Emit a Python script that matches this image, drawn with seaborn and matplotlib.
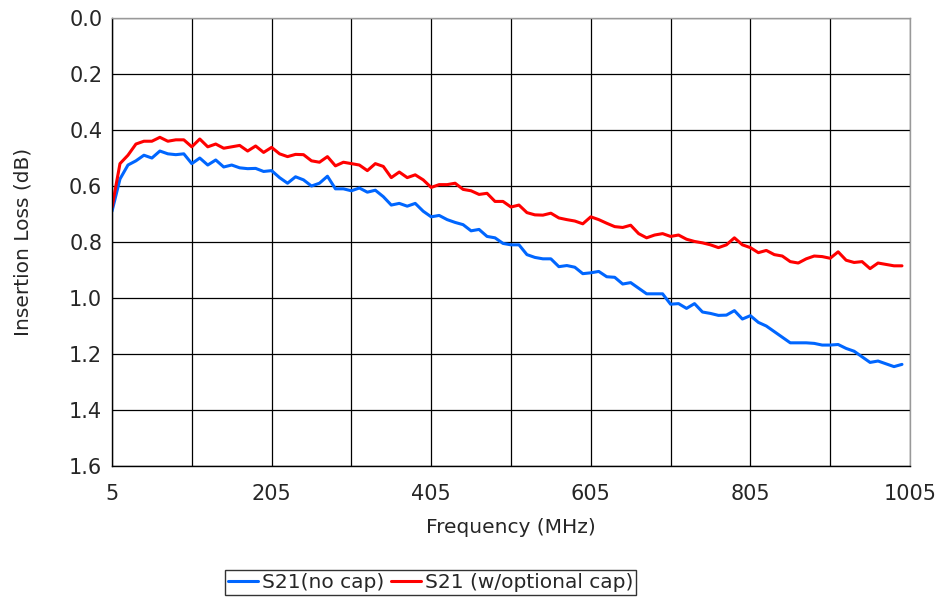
import pandas as pd
import matplotlib
matplotlib.use("Agg")
import matplotlib.pyplot as plt
from matplotlib.ticker import MultipleLocator, FixedLocator
import seaborn as sns

# Frequency points (MHz)
freq = list(range(5, 1000, 10))

# S21 insertion loss without the cap (dB)
s21_no_cap = [
    0.69, 0.575, 0.525, 0.51, 0.49, 0.50, 0.475, 0.485, 0.488, 0.485,
    0.52, 0.50, 0.525, 0.507, 0.532, 0.525, 0.535, 0.538, 0.537, 0.548,
    0.545, 0.57, 0.59, 0.567, 0.578, 0.60, 0.59, 0.565, 0.61, 0.61,
    0.617, 0.607, 0.622, 0.615, 0.638, 0.668, 0.662, 0.672, 0.662, 0.69,
    0.71, 0.705, 0.72, 0.73, 0.738, 0.76, 0.755, 0.78, 0.785, 0.805,
    0.81, 0.81, 0.845, 0.855, 0.86, 0.86, 0.888, 0.884, 0.89, 0.913,
    0.91, 0.905, 0.924, 0.926, 0.95, 0.945, 0.965, 0.985, 0.985, 0.985,
    1.022, 1.02, 1.037, 1.02, 1.05, 1.055, 1.062, 1.061, 1.045, 1.075,
    1.063, 1.087, 1.10, 1.12, 1.14, 1.16, 1.16, 1.16, 1.162, 1.168,
    1.168, 1.166, 1.18, 1.19, 1.21, 1.23, 1.225, 1.235, 1.245, 1.237,
]

# S21 insertion loss with the optional cap (dB)
s21_opt_cap = [
    0.676, 0.52, 0.49, 0.45, 0.44, 0.44, 0.426, 0.44, 0.435, 0.435,
    0.46, 0.432, 0.46, 0.45, 0.465, 0.46, 0.455, 0.475, 0.457, 0.48,
    0.462, 0.485, 0.495, 0.487, 0.488, 0.51, 0.515, 0.495, 0.528, 0.515,
    0.52, 0.525, 0.545, 0.52, 0.53, 0.57, 0.55, 0.57, 0.56, 0.578,
    0.605, 0.595, 0.595, 0.59, 0.612, 0.617, 0.63, 0.626, 0.655, 0.655,
    0.675, 0.668, 0.695, 0.703, 0.704, 0.697, 0.714, 0.72, 0.725, 0.735,
    0.71, 0.72, 0.733, 0.745, 0.748, 0.74, 0.77, 0.785, 0.775, 0.77,
    0.78, 0.775, 0.79, 0.798, 0.803, 0.81, 0.82, 0.81, 0.785, 0.81,
    0.82, 0.838, 0.83, 0.845, 0.85, 0.87, 0.875, 0.86, 0.85, 0.852,
    0.858, 0.835, 0.865, 0.873, 0.87, 0.895, 0.875, 0.88, 0.885, 0.885,
]

series_names = ["S21(no cap)", "S21 (w/optional cap)"]
series_colors = ["#0066FF", "#FF0000"]

df = pd.concat([
    pd.DataFrame({"freq": freq, "loss": s21_no_cap, "series": series_names[0]}),
    pd.DataFrame({"freq": freq, "loss": s21_opt_cap, "series": series_names[1]}),
])

sns.set_style("white")
plt.rcParams["font.family"] = ["DejaVu Sans"]

fig = plt.figure(figsize=(9.38, 5.97), dpi=100)
ax = fig.add_axes([0.1194, 0.2194, 0.8507, 0.7504])

sns.lineplot(
    data=df, x="freq", y="loss", hue="series",
    palette=dict(zip(series_names, series_colors)),
    linewidth=2.2, ax=ax, legend=False,
)

ax.set_xlim(5, 1005)
ax.set_ylim(1.6, 0.0)
ax.xaxis.set_major_locator(FixedLocator(range(5, 1006, 200)))
ax.xaxis.set_minor_locator(FixedLocator(range(105, 1000, 200)))
ax.yaxis.set_major_locator(MultipleLocator(0.2))
ax.yaxis.set_major_formatter(matplotlib.ticker.FormatStrFormatter("%.1f"))

ax.grid(True, which="both", color="black", linewidth=0.9)
ax.set_axisbelow(True)

ax.tick_params(axis="both", which="major", direction="out", length=5,
               width=1, color="black", labelsize=15)
ax.tick_params(axis="x", which="major", pad=8)
ax.tick_params(axis="y", which="major", pad=2)
ax.tick_params(axis="x", which="minor", length=0)

for side in ["left", "bottom"]:
    ax.spines[side].set_color("black")
    ax.spines[side].set_linewidth(1.0)
for side in ["top", "right"]:
    ax.spines[side].set_color("#999999")
    ax.spines[side].set_linewidth(1.0)

ax.set_xlabel("Frequency (MHz)", fontsize=14.5, labelpad=10)
ax.set_ylabel("Insertion Loss (dB)", fontsize=14.5, labelpad=26)

handles = [plt.Line2D([], [], color=c, linewidth=2.2) for c in series_colors]
leg = fig.legend(handles, series_names, loc="lower center",
                 bbox_to_anchor=(0.459, 0.0), ncol=2, fontsize=14.5,
                 frameon=True, fancybox=False, edgecolor="black",
                 handlelength=1.5, handletextpad=0.2, columnspacing=0.3,
                 borderpad=0.15, borderaxespad=0.1)
leg.get_frame().set_linewidth(1.0)

fig.savefig("out.png", dpi=100)
